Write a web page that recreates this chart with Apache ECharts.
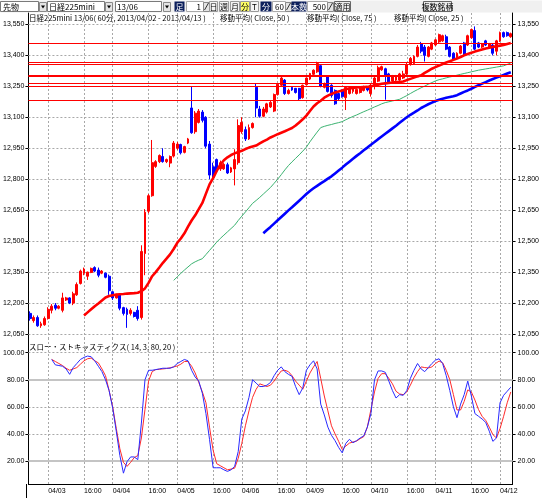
<!DOCTYPE html>
<html>
<head>
<meta charset="utf-8">
<script src="https://cdn.jsdelivr.net/npm/echarts@6/dist/echarts.min.js"></script>
<style>
html, body { margin: 0; padding: 0; background: #fff; }
#chart { width: 542px; height: 498px; }
</style>
</head>
<body>
<div id="chart"></div>
<script>
// 60分足: 04/02 19:00 .. 04/12 09:00
const firstHours = [19, 20, 21, 22, 23];
const dayHours = [0, 1, 2, 9, 10, 11, 12, 13, 14, 15, 16, 17, 18, 19, 20, 21, 22, 23];
const lastHours = [0, 1, 2, 9];
const days = ['04/03', '04/04', '04/05', '04/06', '04/09', '04/10', '04/11'];
const dayAfter = { '04/06': '04/08' }; // 土曜の夜間の後は月曜

// [open, close, low, high]
const candles = [
  [12150,12125,12115,12160],[12115,12130,12105,12140],[12130,12090,12085,12140],[12090,12100,12080,12110],[12095,12125,12090,12135],
  [12125,12170,12120,12180],[12165,12185,12150,12195],[12190,12175,12165,12200],[12175,12185,12170,12190],[12165,12225,12155,12250],
  [12215,12225,12210,12230],[12225,12200,12195,12228],[12200,12245,12190,12255],[12240,12290,12235,12300],[12295,12355,12290,12362],
  [12345,12365,12335,12372],[12330,12350,12312,12352],[12348,12368,12345,12372],[12372,12355,12350,12378],[12360,12335,12325,12372],
  [12345,12355,12340,12360],[12345,12325,12320,12348],[12330,12260,12240,12338],[12255,12225,12215,12258],[12225,12240,12222,12245],
  [12240,12175,12165,12242],[12178,12150,12140,12182],[12170,12145,12080,12178],[12150,12165,12140,12175],[12155,12135,12130,12158],
  [12165,12125,12115,12185],[12130,12450,12120,12480],[12440,12640,12335,12655],[12645,12720,12635,12728],[12720,12880,12715,12990],
  [12862,12885,12855,12892],[12885,12915,12878,12920],[12910,12885,12880,12950],[12885,12895,12878,12900],[12878,12910,12858,12915],
  [12912,12975,12905,12985],[12950,12970,12942,12980],[12968,12928,12920,12972],[12930,12958,12925,12962],[12975,12995,12970,13000],
  [13145,13025,13020,13250],[13030,13120,13020,13130],[13075,13130,13070,13140],[13125,13085,13075,13135],[13100,12960,12950,13105],
  [12970,12820,12800,12985],[12860,12810,12800,12880],[12895,12840,12830,12900],[12850,12880,12840,12890],[12850,12872,12845,12878],
  [12870,12830,12825,12880],[12835,12855,12830,12860],[12850,12895,12770,12945],[12880,13060,12870,13090],[13030,13075,13020,13100],
  [13040,12995,12985,13055],[12995,13050,12990,13065],[13050,13070,13045,13075],[13245,13145,13100,13265],[13140,13105,13098,13155],
  [13105,13140,13100,13150],[13125,13165,13118,13170],[13150,13172,13145,13180],[13130,13210,13125,13215],[13210,13260,13205,13265],
  [13255,13290,13250,13300],[13280,13215,13208,13285],[13215,13230,13210,13238],[13245,13232,13228,13250],[13240,13220,13215,13242],
  [13240,13190,13183,13242],[13195,13255,13190,13258],[13258,13290,13255,13292],[13285,13312,13280,13315],[13308,13328,13303,13332],
  [13320,13360,13315,13369],[13350,13250,13245,13352],[13245,13262,13240,13268],[13295,13225,13220,13300],[13255,13205,13195,13260],
  [13230,13165,13160,13235],[13215,13190,13180,13220],[13230,13200,13195,13235],[13195,13245,13135,13250],[13215,13240,13210,13245],
  [13225,13245,13215,13250],[13215,13235,13210,13240],[13220,13245,13215,13250],[13230,13248,13225,13253],[13245,13232,13225,13250],
  [13215,13255,13200,13265],[13250,13290,13235,13300],[13275,13340,13270,13350],[13330,13345,13325,13350],[13335,13300,13185,13340],
  [13310,13270,13265,13315],[13275,13300,13270,13305],[13280,13300,13275,13305],[13280,13310,13275,13315],[13290,13310,13285,13325],
  [13310,13355,13305,13365],[13355,13385,13350,13392],[13360,13395,13355,13400],[13395,13440,13390,13450],[13455,13420,13410,13465],
  [13440,13400,13370,13450],[13395,13440,13390,13445],[13430,13460,13425,13465],[13450,13475,13445,13480],[13465,13500,13460,13505],
  [13470,13495,13465,13500],[13490,13430,13425,13500],[13440,13395,13390,13445],[13410,13380,13375,13415],[13390,13410,13385,13415],
  [13410,13445,13405,13450],[13460,13400,13395,13465],[13450,13495,13445,13500],[13485,13525,13480,13530],[13520,13430,13425,13540],
  [13460,13440,13435,13465],[13440,13455,13435,13460],[13470,13450,13445,13475],[13440,13455,13435,13460],[13450,13410,13400,13455],
  [13420,13470,13400,13475],[13470,13510,13465,13515],[13510,13490,13485,13515],[13510,13495,13490,13515],[13490,13505,13485,13510]
];

// 移動平均 (25 = 赤太線, 50 = 緑細線, 75 = 青太線)
const ma25Start = 15;
const ma25 = [
  12140,12155,12170,12185,12198,12212,12227,12234,12238,12241,
  12243,12244,12246,12247,12248,12250,12258,12271,12298,12330,
  12350,12372,12395,12415,12436,12462,12492,12513,12538,12570,
  12600,12625,12655,12685,12730,12775,12805,12840,12870,12892,
  12906,12917,12925,12932,12938,12946,12953,12958,12963,12973,
  12983,12992,13002,13010,13018,13025,13032,13040,13048,13060,
  13075,13090,13108,13130,13152,13168,13180,13195,13205,13213,
  13220,13225,13230,13236,13240,13242,13244,13245,13246,13247,
  13250,13254,13258,13262,13264,13266,13268,13270,13271,13273,
  13280,13286,13292,13298,13303,13315,13325,13335,13343,13350,
  13358,13365,13371,13378,13385,13392,13400,13406,13412,13418,
  13423,13428,13433,13437,13441,13444,13447,13450,13455,13460
];
const ma50Start = 40;
const ma50 = [
  12310,12327,12344,12360,12375,12390,12400,12408,12415,12435,
  12455,12475,12495,12513,12529,12545,12561,12577,12600,12621,
  12641,12662,12683,12697,12712,12728,12744,12760,12780,12800,
  12822,12845,12866,12884,12901,12918,12936,12955,12981,13005,
  13028,13050,13056,13061,13065,13070,13074,13079,13088,13096,
  13104,13111,13119,13127,13134,13142,13150,13157,13165,13171,
  13175,13179,13183,13187,13196,13205,13215,13225,13234,13243,
  13251,13260,13268,13276,13282,13286,13291,13295,13299,13304,
  13308,13312,13316,13320,13324,13328,13331,13334,13337,13340,
  13343,13346,13349,13356,13363
];
const ma75Start = 65;
const ma75 = [
  12538,12554,12569,12585,12601,12617,12633,12649,12664,12680,
  12696,12712,12728,12743,12756,12768,12780,12791,12803,12814,
  12828,12842,12856,12871,12885,12899,12913,12926,12940,12953,
  12967,12980,12994,13007,13020,13033,13046,13059,13073,13087,
  13100,13112,13122,13133,13145,13154,13163,13171,13179,13185,
  13190,13194,13198,13202,13207,13215,13223,13230,13238,13247,
  13255,13263,13270,13278,13285,13292,13298,13305,13312,13318
];

// スロー・ストキャスティクス
const stochStart = 6;
const stochK = [
  95,91,90.5,90,88,84,89,92,95,96.5,
  97.5,97,94,90,86,80,72,59,42,24,
  11,19.5,23,23,21,48,80,87,87,87.5,
  88,88.5,88.5,88.5,89.5,92,93.5,95,94,87,
  82,79,70,55,36,15,15,15,13.5,12.3,
  13.5,16,27,51,57,67,80,77.5,75,75,
  76,78,83,87,89.5,86,84,82.5,75,69,
  74,87,91,94,88,62,54,45,39,35,
  30,26,33,36,33.5,35,37,38.5,45,55,
  80,86.5,86.5,85.5,79,72,66.5,69,68.5,72,
  81,87,92,88,86,89,92,94.5,95.5,92,
  83,72,60,52,62,69,79,68,55,53,
  51,48.5,42,34.5,37,63,68.5,71.5,74.5
];
const stochD = [
  95,93.5,92,90.5,88.5,87,88,89,91.5,94,
  95.5,96,94,92.5,88,83,72,60,44,29,
  19,16,19,22.5,24,37,58,79,86,87.5,
  87.7,88,88.3,88.8,89.5,90.2,91.5,93.5,93.5,90,
  85,78,71,63,45,28,18,16.5,15,13.5,
  14,14.7,22,33,46,57,67,73,77,76,
  75,76,79,83,86.5,87,86,83,79,76,
  73,79,85,89.5,93.5,81,68,57,46,40,
  34.5,28.5,31,33.2,34,34.7,36.5,38,45,58,
  71,81,84.5,84.5,81,77,71.5,69.5,69,71,
  76,81.5,86,89.5,89,88.7,89.5,92,93.8,92.5,
  87,80,69,57.7,57.7,64,72.5,71,65,58,
  53,50,45,39.5,37,44,53,63,71
];

// 水平ライン
const levels = [13458, 13366, 13355, 13301, 13265, 13250, 13182];
const priceTicks = [12050, 12200, 12350, 12500, 12650, 12800, 12950, 13100, 13250, 13400, 13550];
const stochTicks = [20, 40, 60, 80, 100];

// build categories
const cats = [];
firstHours.forEach(h => cats.push('04/02 ' + h + ':00'));
days.forEach(d => dayHours.forEach(h => cats.push((h >= 9 && dayAfter[d] ? dayAfter[d] : d) + ' ' + h + ':00')));
lastHours.forEach(h => cats.push('04/12 ' + h + ':00'));

function hourOf(c) { return parseInt(c.split(' ')[1], 10); }
const vIdx = [];
cats.forEach((c, i) => { const h = hourOf(c); if (h === 0 || h === 16) vIdx.push(i); });

function pad(n, arr) { return new Array(n).fill('-').concat(arr); }
function comma(v) { return String(v).replace(/\B(?=(\d{3})+(?!\d))/g, ','); }

const lblFont = { fontSize: 7, fontFamily: 'Liberation Sans', color: '#000' };
const gridDash = { color: '#a8a8a8', width: 1, type: [2, 2] };

// toolbar
const tb = [];
function rect(x, y, w, h, fill, stroke) {
  tb.push({ type: 'rect', shape: { x: x + 0.5, y: y + 0.5, width: w, height: h }, style: { fill: fill, stroke: stroke || null, lineWidth: stroke ? 1 : 0 }, silent: true });
}
function txt(x, y, s, color, align) {
  tb.push({ type: 'text', x: x, y: y, style: { text: s, fill: color || '#000', fontSize: 8, fontFamily: 'Noto Sans CJK JP', align: align || 'left', verticalAlign: 'middle' }, silent: true });
}
function drop(x) {
  rect(x, 2, 7, 9, '#e4e4e4', '#8a8a8a');
  tb.push({ type: 'polygon', shape: { points: [[x + 2, x ? 5.5 : 5.5], [x + 6, 5.5], [x + 4, 8.5]] }, style: { fill: '#000' }, silent: true });
}
function spin(x) {
  rect(x, 2, 6, 9, '#e4e4e4', '#8a8a8a');
  tb.push({ type: 'line', shape: { x1: x + 1.5, y1: 10, x2: x + 5.5, y2: 3 }, style: { stroke: '#333', lineWidth: 1 }, silent: true });
}
rect(0, 0, 542, 12, '#f0f0f0');
rect(0, 1, 38, 10, '#fff', '#7a7a7a'); txt(3, 6.5, '先物'); drop(39);
rect(47, 1, 57, 10, '#fff', '#7a7a7a'); txt(49, 6.5, '日経225mini'); drop(105);
rect(115, 1, 46, 10, '#fff', '#7a7a7a'); txt(117, 6.5, '13/06'); drop(163);
rect(174, 1, 10, 10, '#0c1f5c'); txt(179.5, 6.5, '足', '#fff', 'center');
rect(186, 1, 17, 10, '#fff', '#aaa'); txt(201, 6.5, '1', '#000', 'right'); spin(203);
rect(209, 1, 8, 10, '#f4f4f4', '#999'); txt(213.5, 6.5, '日', '#000', 'center');
rect(219, 1, 9, 10, '#f4f4f4', '#999'); txt(224, 6.5, '週', '#000', 'center');
rect(230, 1, 9, 10, '#f4f4f4', '#999'); txt(235, 6.5, '月', '#000', 'center');
rect(240, 1, 9, 10, '#ffff66', '#999'); txt(245, 6.5, '分', '#000', 'center');
rect(250, 1, 8, 10, '#f4f4f4', '#999'); txt(254.5, 6.5, 'T', '#000', 'center');
rect(260, 1, 11, 10, '#0c1f5c'); txt(266, 6.5, '分', '#fff', 'center');
rect(272, 1, 13, 10, '#fff', '#aaa'); txt(284, 6.5, '60', '#000', 'right'); spin(285);
rect(291, 1, 15, 10, '#0c1f5c'); txt(299, 6.5, '本数', '#fff', 'center');
rect(307, 1, 20, 10, '#fff', '#aaa'); txt(326, 6.5, '500', '#000', 'right'); spin(327);
rect(334, 1, 16, 10, '#ececec', '#666'); txt(342.5, 6.5, '適用', '#000', 'center');
rect(423, 1, 28, 10, '#ececec', '#666'); txt(437.5, 6.5, '複数銘柄', '#000', 'center');

const titleFont = { fill: '#000', fontSize: 7.5, fontFamily: 'Noto Sans CJK JP', verticalAlign: 'middle' };
tb.push({ type: 'text', x: 29, y: 18.5, style: Object.assign({ text: '日経225mini 13/06( 60分, 2013/04/02 - 2013/04/13 )' }, titleFont), silent: true });
tb.push({ type: 'text', x: 220, y: 18.5, style: Object.assign({ text: '移動平均( Close, 50 )' }, titleFont), silent: true });
tb.push({ type: 'text', x: 307, y: 18.5, style: Object.assign({ text: '移動平均( Close, 75 )' }, titleFont), silent: true });
tb.push({ type: 'text', x: 394, y: 18.5, style: Object.assign({ text: '移動平均( Close, 25 )' }, titleFont), silent: true });
tb.push({ type: 'text', x: 29, y: 347.5, style: Object.assign({ text: 'スロー・ストキャスティクス( 14, 3, 80, 20 )' }, titleFont), silent: true });
tb.push({ type: 'line', shape: { x1: 26.5, y1: 484, x2: 26.5, y2: 498 }, style: { stroke: '#000', lineWidth: 1 }, silent: true });

function yAx(grid, pos, min, max, ticks, fmt) {
  return {
    type: 'value', gridIndex: grid, position: pos, min: min, max: max,
    axisLine: { show: true, lineStyle: { color: '#000', width: 1 } },
    axisTick: { show: true, length: 3, customValues: ticks, lineStyle: { color: '#000' } },
    axisLabel: Object.assign({ customValues: ticks, formatter: fmt, margin: pos === 'left' ? 4 : 5 }, lblFont),
    splitLine: { show: false }
  };
}

const chart = echarts.init(document.getElementById('chart'));
chart.setOption({
  animation: false,
  backgroundColor: '#fff',
  graphic: tb,
  grid: [
    { left: 26, right: 29, top: 13, height: 326 },
    { left: 26, right: 29, top: 339, height: 145 }
  ],
  xAxis: [
    { type: 'category', gridIndex: 0, data: cats, boundaryGap: true,
      axisLine: { show: false }, axisTick: { show: false }, axisLabel: { show: false }, splitLine: { show: false } },
    { type: 'category', gridIndex: 1, data: cats, boundaryGap: true,
      axisLine: { show: true, onZero: false, lineStyle: { color: '#000' } }, axisTick: { show: false },
      axisLabel: Object.assign({
        interval: (i, v) => { const h = hourOf(v); return h === 0 || h === 16; },
        formatter: v => (hourOf(v) === 16 ? '16:00' : v.split(' ')[0]),
        align: 'left', margin: 4
      }, lblFont),
      splitLine: { show: false } }
  ],
  yAxis: [
    yAx(0, 'left', 12026, 13605, priceTicks, comma),
    yAx(0, 'right', 12026, 13605, priceTicks, comma),
    yAx(1, 'left', 3, 110.1, stochTicks, v => v.toFixed(2)),
    yAx(1, 'right', 3, 110.1, stochTicks, v => v.toFixed(2))
  ],
  series: [
    { type: 'line', xAxisIndex: 0, yAxisIndex: 0, data: [], silent: true,
      markLine: { silent: true, z: 1, symbol: ['none', 'none'], label: { show: false }, lineStyle: gridDash,
        data: vIdx.map(i => ({ xAxis: i })).concat(priceTicks.map(v => ({ yAxis: v }))) } },
    { type: 'line', xAxisIndex: 1, yAxisIndex: 2, data: [], silent: true,
      markLine: { silent: true, z: 1, symbol: ['none', 'none'], label: { show: false }, lineStyle: gridDash,
        data: vIdx.map(i => ({ xAxis: i })).concat([100, 60, 40].map(v => ({ yAxis: v })))
          .concat([80, 20].map(v => ({ yAxis: v, lineStyle: { color: '#c4c4c4', width: 2, type: 'solid' } }))) } },
    { type: 'candlestick', xAxisIndex: 0, yAxisIndex: 0, data: candles, barWidth: 2.4, z: 2,
      itemStyle: { color: '#ff0000', color0: '#0000ff', borderColor: '#ff0000', borderColor0: '#0000ff', borderWidth: 1 },
      markLine: { silent: true, z: 4, symbol: ['none', 'none'], label: { show: false },
        lineStyle: { color: '#ff0000', width: 1.2, type: 'solid' },
        data: levels.map(v => ({ yAxis: v, lineStyle: { color: '#ff0000', width: v === 13301 ? 2 : 1.2, type: 'solid' } })) } },
    { type: 'line', name: 'MA50', xAxisIndex: 0, yAxisIndex: 0, data: pad(ma50Start, ma50), showSymbol: false, z: 3,
      lineStyle: { color: '#3cb371', width: 1 } },
    { type: 'line', name: 'MA75', xAxisIndex: 0, yAxisIndex: 0, data: pad(ma75Start, ma75), showSymbol: false, z: 3,
      lineStyle: { color: '#0000ff', width: 2.6 } },
    { type: 'line', name: 'MA25', xAxisIndex: 0, yAxisIndex: 0, data: pad(ma25Start, ma25), showSymbol: false, z: 3,
      lineStyle: { color: '#ff0000', width: 2.6 } },
    { type: 'line', name: '%D', xAxisIndex: 1, yAxisIndex: 2, data: pad(stochStart, stochD), showSymbol: false, z: 3,
      lineStyle: { color: '#ff2a2a', width: 1 } },
    { type: 'line', name: '%K', xAxisIndex: 1, yAxisIndex: 2, data: pad(stochStart, stochK), showSymbol: false, z: 3,
      lineStyle: { color: '#2a2aff', width: 1 } }
  ]
});
</script>
</body>
</html>
